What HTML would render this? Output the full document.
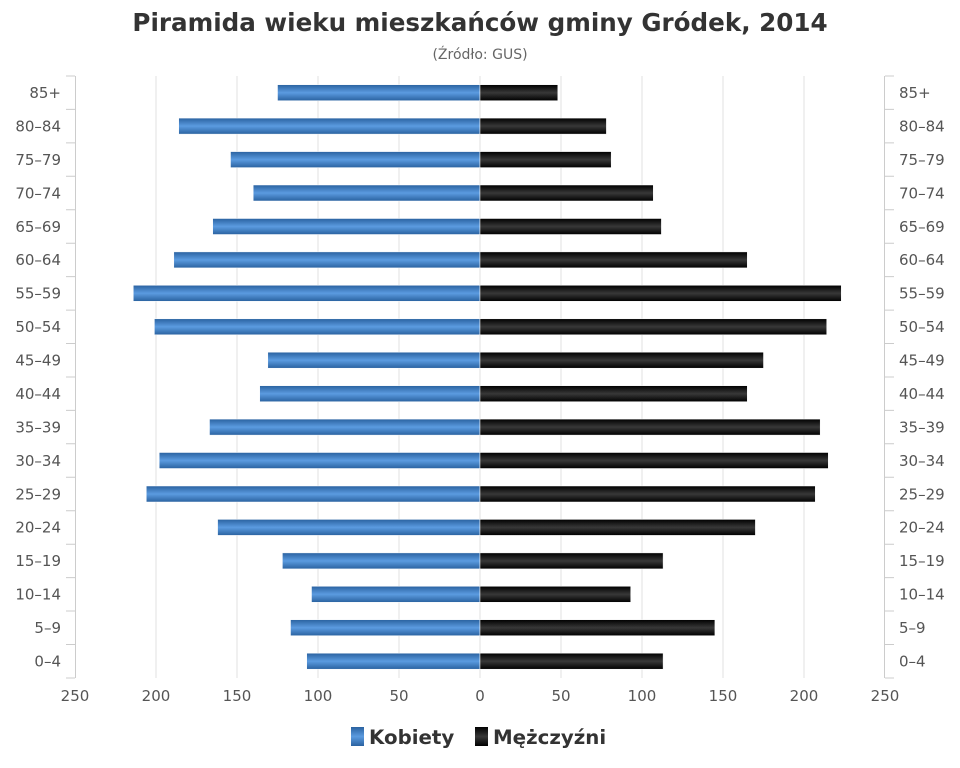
<!DOCTYPE html>
<html><head><meta charset="utf-8"><style>body{margin:0;background:#fff}svg{display:block;font-family:"DejaVu Sans","Liberation Sans",sans-serif}</style></head><body>
<svg width="960" height="768" xmlns="http://www.w3.org/2000/svg">
<defs>
<linearGradient id="b" x1="0" y1="0" x2="0" y2="1"><stop offset="0" stop-color="#2a62a0"/><stop offset="0.5" stop-color="#5b9be0"/><stop offset="1" stop-color="#2a62a0"/></linearGradient>
<linearGradient id="k" x1="0" y1="0" x2="0" y2="1"><stop offset="0" stop-color="#000"/><stop offset="0.5" stop-color="#383838"/><stop offset="1" stop-color="#000"/></linearGradient>
</defs>
<text x="480" y="31" text-anchor="middle" font-size="24.6" font-weight="bold" fill="#333">Piramida wieku mieszkańców gminy Gródek, 2014</text>
<text x="480" y="59" text-anchor="middle" font-size="14" fill="#666">(Źródło: GUS)</text>
<g stroke="#e0e0e0" stroke-width="1">
<line x1="156" y1="76" x2="156" y2="678"/><line x1="237" y1="76" x2="237" y2="678"/><line x1="318" y1="76" x2="318" y2="678"/><line x1="399" y1="76" x2="399" y2="678"/><line x1="480" y1="76" x2="480" y2="678"/><line x1="561" y1="76" x2="561" y2="678"/><line x1="642" y1="76" x2="642" y2="678"/><line x1="723" y1="76" x2="723" y2="678"/><line x1="804" y1="76" x2="804" y2="678"/>
</g>
<g stroke="#ccc" stroke-width="1">
<line x1="75.5" y1="76" x2="75.5" y2="678"/><line x1="884.5" y1="76" x2="884.5" y2="678"/>
<path d="M66 76H75M66 109.4H75M66 142.9H75M66 176.3H75M66 209.8H75M66 243.2H75M66 276.6H75M66 310.1H75M66 343.5H75M66 377H75M66 410.4H75M66 443.8H75M66 477.3H75M66 510.7H75M66 544.2H75M66 577.6H75M66 611H75M66 644.5H75M66 678H75"/>
<path d="M885 76H894M885 109.4H894M885 142.9H894M885 176.3H894M885 209.8H894M885 243.2H894M885 276.6H894M885 310.1H894M885 343.5H894M885 377H894M885 410.4H894M885 443.8H894M885 477.3H894M885 510.7H894M885 544.2H894M885 577.6H894M885 611H894M885 644.5H894M885 678H894"/>
</g>
<g fill="url(#b)" stroke="#fff" stroke-width="0.5">
<rect x="277.5" y="84.7" width="202.5" height="16"/>
<rect x="178.7" y="118.1" width="301.3" height="16"/>
<rect x="230.5" y="151.6" width="249.5" height="16"/>
<rect x="253.2" y="185" width="226.8" height="16"/>
<rect x="212.7" y="218.5" width="267.3" height="16"/>
<rect x="173.8" y="251.9" width="306.2" height="16"/>
<rect x="133.3" y="285.3" width="346.7" height="16"/>
<rect x="154.4" y="318.8" width="325.6" height="16"/>
<rect x="267.8" y="352.2" width="212.2" height="16"/>
<rect x="259.7" y="385.7" width="220.3" height="16"/>
<rect x="209.5" y="419.1" width="270.5" height="16"/>
<rect x="159.2" y="452.5" width="320.8" height="16"/>
<rect x="146.3" y="486" width="333.7" height="16"/>
<rect x="217.6" y="519.4" width="262.4" height="16"/>
<rect x="282.4" y="552.9" width="197.6" height="16"/>
<rect x="311.5" y="586.3" width="168.5" height="16"/>
<rect x="290.5" y="619.7" width="189.5" height="16"/>
<rect x="306.7" y="653.2" width="173.3" height="16"/>
</g>
<g fill="url(#k)" stroke="#fff" stroke-width="0.5">
<rect x="480" y="84.7" width="77.8" height="16"/>
<rect x="480" y="118.1" width="126.4" height="16"/>
<rect x="480" y="151.6" width="131.2" height="16"/>
<rect x="480" y="185" width="173.3" height="16"/>
<rect x="480" y="218.5" width="181.4" height="16"/>
<rect x="480" y="251.9" width="267.3" height="16"/>
<rect x="480" y="285.3" width="361.3" height="16"/>
<rect x="480" y="318.8" width="346.7" height="16"/>
<rect x="480" y="352.2" width="283.5" height="16"/>
<rect x="480" y="385.7" width="267.3" height="16"/>
<rect x="480" y="419.1" width="340.2" height="16"/>
<rect x="480" y="452.5" width="348.3" height="16"/>
<rect x="480" y="486" width="335.3" height="16"/>
<rect x="480" y="519.4" width="275.4" height="16"/>
<rect x="480" y="552.9" width="183.1" height="16"/>
<rect x="480" y="586.3" width="150.7" height="16"/>
<rect x="480" y="619.7" width="234.9" height="16"/>
<rect x="480" y="653.2" width="183.1" height="16"/>
</g>
<g font-size="15" fill="#555" text-anchor="end">
<text x="61" y="98">85+</text><text x="61" y="131.4">80–84</text><text x="61" y="164.9">75–79</text><text x="61" y="198.3">70–74</text><text x="61" y="231.8">65–69</text><text x="61" y="265.2">60–64</text><text x="61" y="298.6">55–59</text><text x="61" y="332.1">50–54</text><text x="61" y="365.5">45–49</text><text x="61" y="399">40–44</text><text x="61" y="432.4">35–39</text><text x="61" y="465.8">30–34</text><text x="61" y="499.3">25–29</text><text x="61" y="532.7">20–24</text><text x="61" y="566.2">15–19</text><text x="61" y="599.6">10–14</text><text x="61" y="633">5–9</text><text x="61" y="666.5">0–4</text>
</g>
<g font-size="15" fill="#555">
<text x="899" y="98">85+</text><text x="899" y="131.4">80–84</text><text x="899" y="164.9">75–79</text><text x="899" y="198.3">70–74</text><text x="899" y="231.8">65–69</text><text x="899" y="265.2">60–64</text><text x="899" y="298.6">55–59</text><text x="899" y="332.1">50–54</text><text x="899" y="365.5">45–49</text><text x="899" y="399">40–44</text><text x="899" y="432.4">35–39</text><text x="899" y="465.8">30–34</text><text x="899" y="499.3">25–29</text><text x="899" y="532.7">20–24</text><text x="899" y="566.2">15–19</text><text x="899" y="599.6">10–14</text><text x="899" y="633">5–9</text><text x="899" y="666.5">0–4</text>
</g>
<g font-size="15" fill="#555" text-anchor="middle">
<text x="75" y="701">250</text><text x="156" y="701">200</text><text x="237" y="701">150</text><text x="318" y="701">100</text><text x="399" y="701">50</text><text x="480" y="701">0</text><text x="561" y="701">50</text><text x="642" y="701">100</text><text x="723" y="701">150</text><text x="804" y="701">200</text><text x="885" y="701">250</text>
</g>
<rect x="351" y="727" width="13" height="19" fill="url(#b)"/>
<text x="369" y="744" font-size="19.8" font-weight="bold" fill="#333">Kobiety</text>
<rect x="475" y="727" width="13" height="19" fill="url(#k)"/>
<text x="493" y="744" font-size="19.8" font-weight="bold" fill="#333">Mężczyźni</text>
</svg>
</body></html>
